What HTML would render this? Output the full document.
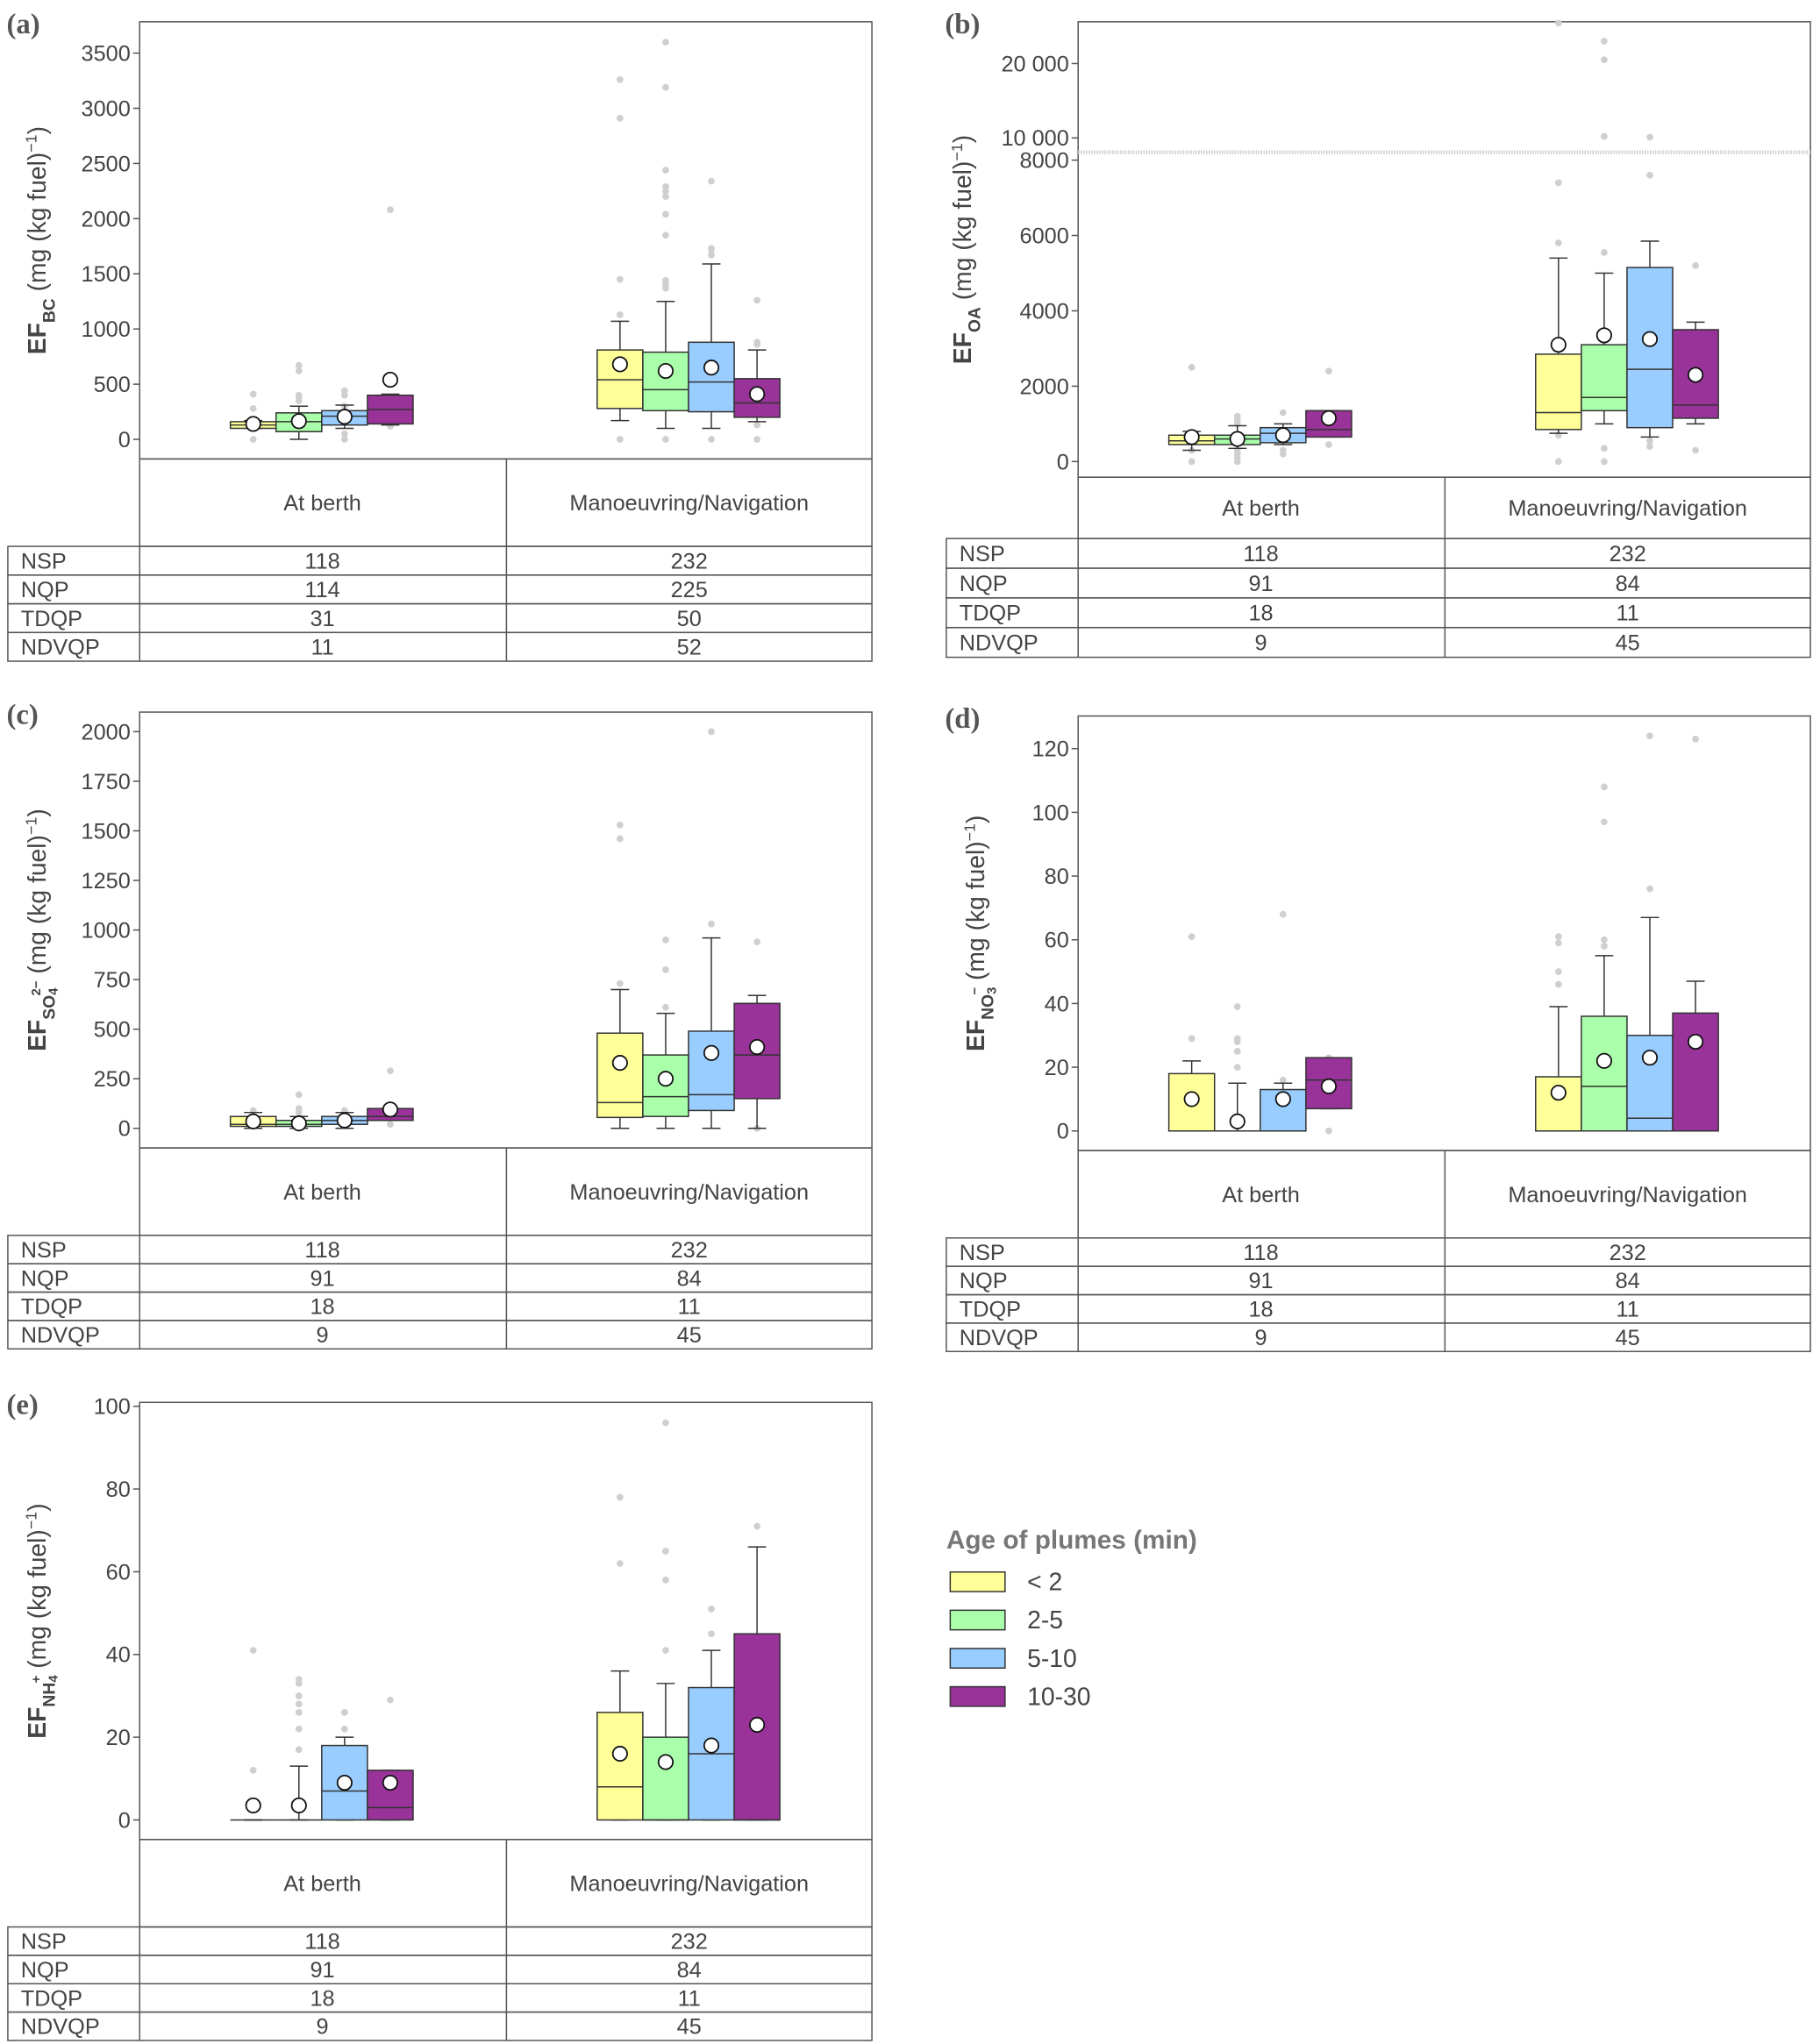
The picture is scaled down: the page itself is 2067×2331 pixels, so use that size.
<!DOCTYPE html>
<html><head><meta charset="utf-8">
<style>
html,body{margin:0;padding:0;background:#fff;}
svg{display:block;font-family:"Liberation Sans",sans-serif;}
</style></head>
<body>
<svg id="chart" width="2067" height="2331" viewBox="0 0 1389 1565" xmlns="http://www.w3.org/2000/svg"></svg>
<script>
const colors=["#ffff99","#aaffaa","#99ccff","#993399"];
const ageLabels=["< 2","2-5","5-10","10-30"];
const categories=["At berth","Manoeuvring/Navigation"];
const rowLabels=["NSP","NQP","TDQP","NDVQP"];

// Panel a (BC)
const a_q1=[100,70,130,140, 280,260,250,200];
const a_med=[130,160,210,270, 540,450,520,330];
const a_q3=[160,240,260,400, 810,790,880,550];
const a_lo=[100,0,100,130, 170,100,100,160];
const a_hi=[170,300,310,410, 1070,1250,1590,810];
const a_mean=[140,165,205,540, 680,620,650,410];
const a_out=[[0,100,280,410],[350,380,400,620,670],[0,50,300,400,440],[120,2080],
 [0,1130,1450,2910,3260],[0,1370,1400,1440,1850,2040,2200,2250,2290,2440,3190,3600],[0,1670,1720,1730,2340],[0,130,860,880,1260]];
const a_ticks=[0,500,1000,1500,2000,2500,3000,3500];
const a_table=[["118","232"],["114","225"],["31","50"],["11","52"]];

// Panel b (OA)
const b_q1=[450,450,500,650, 850,1350,900,1150];
const b_med=[550,600,750,850, 1300,1700,2450,1500];
const b_q3=[700,700,900,1350, 2850,3100,5150,3500];
const b_lo=[300,350,450,650, 750,1000,650,1000];
const b_hi=[800,950,1000,1350, 5400,5000,5850,3700];
const b_mean=[650,600,700,1150, 3100,3350,3250,2300];
const b_out=[[0,300,2500],[0,100,200,300,1000,1100,1200],[200,300,1300],[450,2400],
 [0,700,5800,7400,25500],[0,350,5550,10200,20500,23000],[400,550,7600,10100],[300,5200]];
const b_ticks=[0,2000,4000,6000,8000,10000,20000];
const b_tickLabels=["0","2000","4000","6000","8000","10 000","20 000"];
const tableStd=[["118","232"],["91","84"],["18","11"],["9","45"]];

// Panel c (SO4)
const c_q1=[10,10,20,40, 55,60,90,150];
const c_med=[20,20,40,60, 130,160,170,370];
const c_q3=[60,40,60,100, 480,370,490,630];
const c_lo=[0,0,0,40, 0,0,0,0];
const c_hi=[80,60,80,100, 700,580,960,670];
const c_mean=[35,25,40,95, 330,250,380,410];
const c_out=[[90],[80,100,170],[90],[20,290],[730,1460,1530],[610,800,950],[1030,2000],[0,940]];
const c_ticks=[0,250,500,750,1000,1250,1500,1750,2000];

// Panel d (NO3)
const d_q1=[0,0,0,7, 0,0,0,0];
const d_med=[0,0,0,16, 0,14,4,0];
const d_q3=[18,0,13,23, 17,36,30,37];
const d_lo=[0,0,0,7, 0,0,0,0];
const d_hi=[22,15,15,23, 39,55,67,47];
const d_mean=[10,3,10,14, 12,22,23,28];
const d_out=[[29,61],[20,25,28,29,39],[16,68],[0,23],[46,50,59,61],[58,60,97,108],[76,124],[123]];
const d_ticks=[0,20,40,60,80,100,120];

// Panel e (NH4)
const e_q1=[0,0,0,0, 0,0,0,0];
const e_med=[0,0,7,3, 8,0,16,0];
const e_q3=[0,0,18,12, 26,20,32,45];
const e_lo=[0,0,0,0, 0,0,0,0];
const e_hi=[0,13,20,12, 36,33,41,66];
const e_mean=[3.5,3.5,9,9, 16,14,18,23];
const e_out=[[12,41],[17,22,26,28,30,33,34],[22,26],[29],[62,78],[41,58,65,96],[45,51],[71]];
const e_ticks=[0,20,40,60,80,100];

const NS="http://www.w3.org/2000/svg";
const svg=document.getElementById('chart');
function mk(tag,attrs,parent){const e=document.createElementNS(NS,tag);for(const k in attrs)e.setAttribute(k,attrs[k]);(parent||svg).appendChild(e);return e;}

function linScale(v0,y0,v1,y1){return v=>y0+(v-v0)*(y1-y0)/(v1-v0);}

function drawPanel(p){
  const g=mk('g',{});
  
  
  const L=p.x0,R=p.x0+561,T=p.top,B=p.bottom;
  const lbl=mk('text',{x:L-102,y:T+9,'font-family':'Liberation Serif,serif','font-weight':'bold','font-size':22,fill:'#555'},g);
  lbl.textContent='('+p.id+')';
  
  
  const frame=mk('rect',{x:L,y:T,width:561,height:B-T,fill:'none',stroke:'#555','stroke-width':1},g);
  
  
  p.ticks.forEach((t,i)=>{
    const y=p.sy(t);
    mk('line',{x1:L-5,x2:L,y1:y,y2:y,stroke:'#555'},g);
    const tx=mk('text',{x:L-7,y:y+6,'text-anchor':'end','font-size':17,fill:'#444'},g);
    tx.textContent=p.tickLabels?p.tickLabels[i]:String(t);
    
    
  });
  if(p.breakY){
    mk('line',{x1:L,x2:R,y1:p.breakY,y2:p.breakY,stroke:'#ccc','stroke-width':3,'stroke-dasharray':'1 1'},g);
  }
  const cy=(T+B)/2;
  const yt=mk('text',{x:0,y:0,transform:`translate(${L-(p.titleOff||72)},${cy}) rotate(-90)`,'text-anchor':'middle','font-size':19,fill:'#444'},g);
  
  
  let ion='';
  if(p.idx){ion=`<tspan font-weight="bold" font-size="10" dy="2">${p.idx}</tspan><tspan font-weight="bold" font-size="10" dx="-6" dy="-13">${p.sup}</tspan><tspan dy="4"> (mg (kg fuel)</tspan>`;}
  else{ion=`<tspan dy="-7"> (mg (kg fuel)</tspan>`;}
  yt.innerHTML=`<tspan font-weight="bold">EF</tspan><tspan font-weight="bold" font-size="13" dy="7">${p.sub}</tspan>${ion}<tspan font-size="12" dy="-7">−1</tspan><tspan dy="7">)</tspan>`;
  const centers=[L+87,L+122,L+157,L+192, L+368,L+403,L+438,L+473];
  const hw=17.5;
  for(let i=0;i<8;i++){
    const cx=centers[i];
    const bg=mk('g',{},g);
    
    
    p.out[i].forEach(v=>{
      const o=mk('circle',{cx:cx,cy:p.sy(v),r:2.6,fill:'#cfcfcf'},bg);
      
      
    });
    const yl=p.sy(p.lo[i]),yh=p.sy(p.hi[i]),y1=p.sy(p.q1[i]),y3=p.sy(p.q3[i]),ym=p.sy(p.med[i]);
    mk('line',{x1:cx,x2:cx,y1:yh,y2:y3,stroke:'#333'},bg);
    mk('line',{x1:cx,x2:cx,y1:y1,y2:yl,stroke:'#333'},bg);
    mk('line',{x1:cx-7,x2:cx+7,y1:yh,y2:yh,stroke:'#333'},bg);
    mk('line',{x1:cx-7,x2:cx+7,y1:yl,y2:yl,stroke:'#333'},bg);
    if(y1-y3>0.5) mk('rect',{x:cx-hw,y:y3,width:hw*2,height:y1-y3,fill:colors[i%4],stroke:'#333','stroke-width':1},bg);
    mk('line',{x1:cx-hw,x2:cx+hw,y1:ym,y2:ym,stroke:'#333'},bg);
    const m=mk('circle',{cx:cx,cy:p.sy(p.mean[i]),r:5.5,fill:'#fff',stroke:'#111','stroke-width':1.2},bg);
    
    
  }
  const S2=p.stripBottom;
  mk('rect',{x:L,y:B,width:561,height:S2-B,fill:'none',stroke:'#555'},g);
  mk('line',{x1:L+281,x2:L+281,y1:B,y2:S2,stroke:'#555'},g);
  categories.forEach((c,j)=>{
    const t=mk('text',{x:L+140+j*281,y:(B+S2)/2+6,'text-anchor':'middle','font-size':17,fill:'#444'},g);
    t.textContent=c;
    
    
  });
  const rh=(p.tableBottom-S2)/4;
  for(let r=0;r<4;r++){
    const y=S2+r*rh;
    mk('rect',{x:L-101,y:y,width:662,height:rh,fill:'none',stroke:'#555'},g);
    mk('line',{x1:L,x2:L,y1:y,y2:y+rh,stroke:'#555'},g);
    mk('line',{x1:L+281,x2:L+281,y1:y,y2:y+rh,stroke:'#555'},g);
    const rl=mk('text',{x:L-91,y:y+rh/2+6,'font-size':17,fill:'#444'},g);
    rl.textContent=rowLabels[r];
    
    
    for(let j=0;j<2;j++){
      const tv=mk('text',{x:L+140+j*281,y:y+rh/2+6,'text-anchor':'middle','font-size':17,fill:'#444'},g);
      tv.textContent=p.table[r][j];
      
      
    }
  }
}

drawPanel({id:'a',x0:107,top:16,bottom:351,stripBottom:418,tableBottom:506,sy:linScale(0,336,3500,40),ticks:a_ticks,sub:'BC',
  q1:a_q1,med:a_med,q3:a_q3,lo:a_lo,hi:a_hi,mean:a_mean,out:a_out,table:a_table});
const bLow=linScale(0,353,8000,122),bHigh=linScale(10000,105,20000,48);
drawPanel({id:'b',x0:826,top:16,bottom:365,stripBottom:412,tableBottom:503,titleOff:82,
  sy:v=>v<=8500?bLow(v):(v<10000?117:Math.max(17,bHigh(v))),ticks:b_ticks,tickLabels:b_tickLabels,breakY:116,sub:'OA',
  q1:b_q1,med:b_med,q3:b_q3,lo:b_lo,hi:b_hi,mean:b_mean,out:b_out,table:tableStd});
drawPanel({id:'c',x0:107,top:545,bottom:879,stripBottom:946,tableBottom:1033,sy:linScale(0,864,2000,560),ticks:c_ticks,sub:'SO',idx:'4',sup:'2−',
  q1:c_q1,med:c_med,q3:c_q3,lo:c_lo,hi:c_hi,mean:c_mean,out:c_out,table:tableStd});
drawPanel({id:'d',x0:826,top:548,bottom:881,stripBottom:948,tableBottom:1035,sy:linScale(0,866,120,573),ticks:d_ticks,sub:'NO',idx:'3',sup:'−',
  q1:d_q1,med:d_med,q3:d_q3,lo:d_lo,hi:d_hi,mean:d_mean,out:d_out,table:tableStd});
drawPanel({id:'e',x0:107,top:1074,bottom:1409,stripBottom:1476,tableBottom:1563,sy:linScale(0,1394,100,1077),ticks:e_ticks,sub:'NH',idx:'4',sup:'+',
  q1:e_q1,med:e_med,q3:e_q3,lo:e_lo,hi:e_hi,mean:e_mean,out:e_out,table:tableStd});

const lg=mk('g',{});


const lt=mk('text',{x:725,y:1186,'font-size':20,'font-weight':'bold',fill:'#777'},lg);
lt.textContent='Age of plumes (min)';


ageLabels.forEach((a,i)=>{
  const y=1204+i*29.3;
  const e=mk('g',{},lg);
  
  
  mk('rect',{x:728,y:y,width:42,height:15,fill:colors[i],stroke:'#333'},e);
  const t=mk('text',{x:787,y:y+14,'font-size':19,fill:'#444'},e);
  t.textContent=a;
});
</script>
</body></html>
